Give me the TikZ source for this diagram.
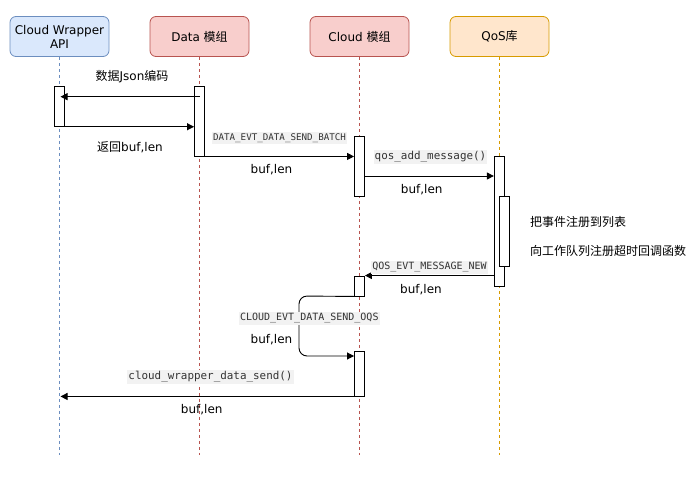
\documentclass[tikz,border=0pt]{standalone}
\usepackage{fontspec}
\setmainfont{DejaVu Sans}
\newfontfamily\cjk{Noto Sans CJK SC}
\newfontfamily\monof{DejaVu Sans Mono}
\usetikzlibrary{arrows.meta}
\definecolor{blueF}{HTML}{DAE8FC}
\definecolor{blueD}{HTML}{6C8EBF}
\definecolor{redF}{HTML}{F8CECC}
\definecolor{redD}{HTML}{B85450}
\definecolor{oraF}{HTML}{FFE6CC}
\definecolor{oraD}{HTML}{D79B00}
\definecolor{codeBg}{HTML}{F2F2F2}
\definecolor{codeFg}{HTML}{333333}
\tikzset{
  hdr/.style={rectangle, rounded corners=6pt, minimum width=99pt, minimum height=40pt, inner sep=0pt, align=center, line width=0.8pt, font=\fontsize{12}{14}\selectfont},
  life/.style={dashed, dash pattern=on 3pt off 3pt, line width=0.8pt},
  act/.style={rectangle, draw=black, fill=white, minimum width=10pt, inner sep=0pt, line width=0.9pt},
  msg/.style={line width=0.9pt, -{Triangle[length=7pt,width=7pt]}},
  lbl/.style={inner sep=1pt, font=\fontsize{12}{14}\selectfont},
  code/.style={inner xsep=1pt, inner ysep=1.5pt, fill=codeBg, text=codeFg},
  note/.style={inner sep=0pt, anchor=west, font=\fontsize{12}{14}\selectfont\cjk}
}
\begin{document}
\begin{tikzpicture}[x=1pt,y=-1pt]
\useasboundingbox (0,0) rectangle (700,489);
% headers
\node[hdr, fill=blueF, draw=blueD] (cw) at (59.5,36.5) {Cloud Wrapper\\API};
\node[hdr, fill=redF, draw=redD] (dm) at (199.5,36.5) {Data {\cjk 模组}};
\node[hdr, fill=redF, draw=redD] (cm) at (359.5,36.5) {Cloud {\cjk 模组}};
\node[hdr, fill=oraF, draw=oraD] (qm) at (499.5,36.5) {QoS{\cjk 库}};
% lifelines
\coordinate (cwEnd) at (59.5,455);
\coordinate (dmEnd) at (199.5,455);
\coordinate (cmEnd) at (359.5,455);
\coordinate (qmEnd) at (499.5,455);
\draw[life, draw=blueD] (cw.south) -- (cwEnd);
\draw[life, draw=redD] (dm.south) -- (dmEnd);
\draw[life, draw=redD] (cm.south) -- (cmEnd);
\draw[life, draw=oraD] (qm.south) -- (qmEnd);
% activations
\node[act, minimum height=39.6pt] (wa) at (59.5,106.5) {};
\node[act, minimum height=69.3pt] (da) at (199.5,121.35) {};
\node[act, minimum height=59.7pt] (ca1) at (359.5,166.15) {};
\node[act, minimum height=129.7pt] (qa) at (499.3,221.15) {};
\node[act, minimum height=70pt] (qb) at (504.5,231) {};
\node[act, minimum height=20pt] (ca2) at (359.5,286) {};
\node[act, minimum height=45pt] (ca3) at (359.5,373.5) {};
% messages
\draw[msg] (da.center |- 0,96.7) -- ([xshift=1pt]wa.center |- 0,96.7);
\draw[msg] (wa.south east) -- (da.west |- wa.south east);
\draw[msg] (da.south east) -- (ca1.west |- da.south east);
\draw[msg] (ca1.east |- 0,176) -- (qa.west |- 0,176);
\draw[msg] (qa.west |- ca2.north) -- (ca2.north east);
\draw[msg, rounded corners=8pt] (ca2.south west) -- (299,296) -- (299,356) -- (ca3.west |- 0,356);
\draw[msg] (ca3.south west) -- ([xshift=1pt]cwEnd |- ca3.south west);
% labels
\node[lbl] (l1) at (132,76.5) {{\cjk 数据}Json{\cjk 编码}};
\node[lbl] (l2) at (130,147) {{\cjk 返回}buf,len};
\node[code, font=\fontsize{9.2}{11}\monof] (l3) at (279.5,137.7) {DATA\_EVT\_DATA\_SEND\_BATCH};
\node[lbl] (l4) at (271.5,169.5) {buf,len};
\node[code, font=\fontsize{10.9}{13}\monof] (l5) at (430.5,156.7) {qos\_add\_message()};
\node[lbl] (l6) at (421.7,189.5) {buf,len};
\node[code, font=\fontsize{10}{12}\monof] (l7) at (429.5,267.3) {QOS\_EVT\_MESSAGE\_NEW};
\node[lbl] (l8) at (421,289.5) {buf,len};
\node[code, font=\fontsize{10}{12}\monof] (l9) at (309.3,318.3) {CLOUD\_EVT\_DATA\_SEND\_OQS};
\node[lbl] (l10) at (271.5,339.5) {buf,len};
\node[code, font=\fontsize{10.9}{13}\monof] (l11) at (210.5,376.7) {cloud\_wrapper\_data\_send()};
\node[lbl] (l12) at (201.7,409.5) {buf,len};
% notes
\node[note] (n1) at (530,221.7) {把事件注册到列表};
\node[note] (n2) at (530,250.7) {向工作队列注册超时回调函数};
\end{tikzpicture}
\end{document}
